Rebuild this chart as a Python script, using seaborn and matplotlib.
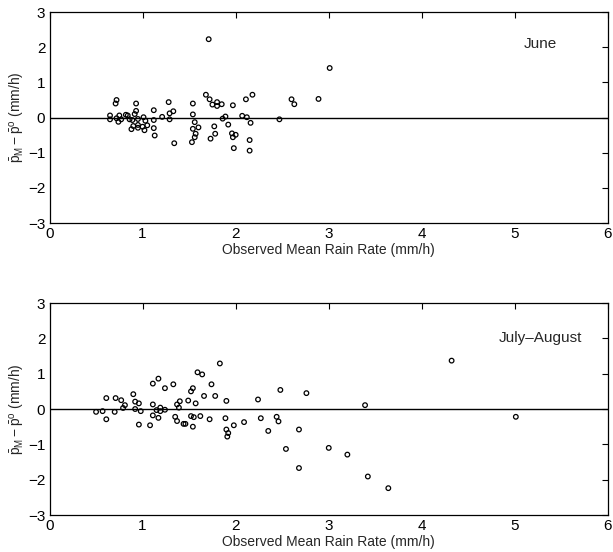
import matplotlib
matplotlib.use("Agg")
import matplotlib.pyplot as plt
import seaborn as sns
import pandas as pd

# June panel
june_x = [1.71, 3.01, 1.68, 2.18, 1.72, 2.11, 2.60, 2.89, 0.72, 0.71, 0.93, 1.28, 1.54,
          1.75, 1.80, 1.80, 1.85, 2.63, 1.97, 1.12, 0.93, 1.33, 1.29, 1.54, 0.915,
          0.65, 0.65, 0.75, 0.82, 0.84, 1.21, 1.89, 2.07, 2.12, 1.86, 1.01,
          0.72, 0.77, 0.74, 0.86, 0.89, 0.95, 1.03, 1.12, 1.29, 2.47, 1.56, 2.16, 1.92,
          0.90, 0.95, 0.88, 0.95, 1.02, 1.05, 1.00, 1.12, 1.13, 1.34, 1.60, 1.54, 1.77,
          1.57, 1.56, 1.53, 1.78, 1.73, 1.96, 2.00, 1.97, 1.98, 2.15, 2.15]
june_y = [2.23, 1.41, 0.65, 0.65, 0.52, 0.52, 0.52, 0.53, 0.50, 0.40, 0.40, 0.44, 0.40,
          0.37, 0.44, 0.33, 0.38, 0.38, 0.35, 0.21, 0.19, 0.18, 0.12, 0.09, 0.10,
          0.06, -0.05, 0.06, 0.08, 0.06, 0.02, 0.03, 0.05, 0.01, -0.03, 0.01,
          -0.02, -0.05, -0.12, -0.05, -0.07, -0.04, -0.09, -0.07, -0.05, -0.05, -0.13, -0.15, -0.20,
          -0.24, -0.21, -0.33, -0.29, -0.36, -0.22, -0.26, -0.30, -0.51, -0.73, -0.28, -0.32, -0.25,
          -0.46, -0.56, -0.70, -0.46, -0.60, -0.45, -0.49, -0.56, -0.87, -0.64, -0.94]

# July-August panel
ja_x = [1.83, 1.59, 1.64, 1.17, 1.11, 1.33, 1.74, 1.24, 1.54, 1.52, 2.48, 2.76, 0.90,
        1.66, 1.78, 0.61, 0.71, 0.77, 0.81, 0.92, 0.96, 0.79, 0.92, 0.98, 0.50, 0.57,
        0.70, 0.61, 1.11, 1.15, 1.19, 1.19, 1.24, 1.11, 1.17, 0.96, 1.08, 1.37, 1.40,
        1.39, 1.49, 1.57, 1.90, 2.24, 1.35, 1.37, 1.44, 1.46, 1.52, 1.55, 1.54, 1.62,
        1.72, 1.89, 1.90, 1.92, 1.91, 1.98, 2.09, 2.27, 2.35, 2.44, 2.46, 2.54, 2.68,
        2.68, 3.00, 4.32, 3.39, 5.01, 3.20, 3.42, 3.64]
ja_y = [1.29, 1.04, 0.98, 0.86, 0.72, 0.70, 0.70, 0.59, 0.59, 0.50, 0.54, 0.45, 0.42,
        0.37, 0.37, 0.31, 0.31, 0.25, 0.11, 0.21, 0.16, 0.03, 0.00, -0.06, -0.08, -0.06,
        -0.08, -0.29, 0.13, -0.03, 0.04, -0.06, -0.02, -0.18, -0.25, -0.44, -0.46, 0.13, 0.22,
        0.04, 0.24, 0.16, 0.23, 0.27, -0.22, -0.34, -0.42, -0.42, -0.20, -0.23, -0.50, -0.20,
        -0.29, -0.26, -0.58, -0.68, -0.78, -0.46, -0.37, -0.26, -0.62, -0.22, -0.35, -1.13, -0.58,
        -1.67, -1.10, 1.37, 0.11, -0.22, -1.29, -1.91, -2.24]

panel_labels = ["June", "July\u2013August"]
x_ticks = [0, 1, 2, 3, 4, 5, 6]
y_ticks = [-3, -2, -1, 0, 1, 2, 3]
xlabel = "Observed Mean Rain Rate (mm/h)"
ylabel = r"$\bar{\mathrm{p}}_{\mathrm{M}} - \bar{\mathrm{p}}^{\mathrm{o}}$ (mm/h)"

sns.set_style("white")
plt.rcParams['font.family'] = ['Liberation Sans', 'DejaVu Sans']
plt.rcParams['mathtext.fontset'] = 'custom'
plt.rcParams['mathtext.rm'] = 'Liberation Sans'
plt.rcParams['mathtext.it'] = 'Liberation Sans'

fig = plt.figure(figsize=(6.13, 5.52), dpi=100)
ax1 = fig.add_axes([0.0808, 0.596, 0.911, 0.382])
ax2 = fig.add_axes([0.0808, 0.067, 0.911, 0.384])

datasets = [(ax1, june_x, june_y, panel_labels[0], 2.1),
            (ax2, ja_x, ja_y, panel_labels[1], 2.0)]

for ax, xs, ys, lab, ty in datasets:
    df = pd.DataFrame({"x": xs, "y": ys})
    ax.axhline(0, color="black", lw=1.0, zorder=1)
    sns.scatterplot(data=df, x="x", y="y", ax=ax, marker="o", s=11,
                    facecolor="none", edgecolor="black", linewidth=0.9, zorder=3)
    ax.set_xlim(0, 6)
    ax.set_ylim(-3, 3)
    ax.set_xticks(x_ticks)
    ax.set_yticks(y_ticks)
    ax.tick_params(direction="in", top=True, right=True, length=4, width=0.8,
                   labelsize=11, colors="black", pad=3)
    for s in ax.spines.values():
        s.set_color("black")
        s.set_linewidth(0.9)
    ax.set_xlabel(xlabel, fontsize=10, labelpad=1)
    ax.set_ylabel(ylabel, fontsize=10, labelpad=1)
    ax.text(5.27, ty, lab, fontsize=11, ha="center", va="center")

fig.savefig("out.png", dpi=100, facecolor="white")
